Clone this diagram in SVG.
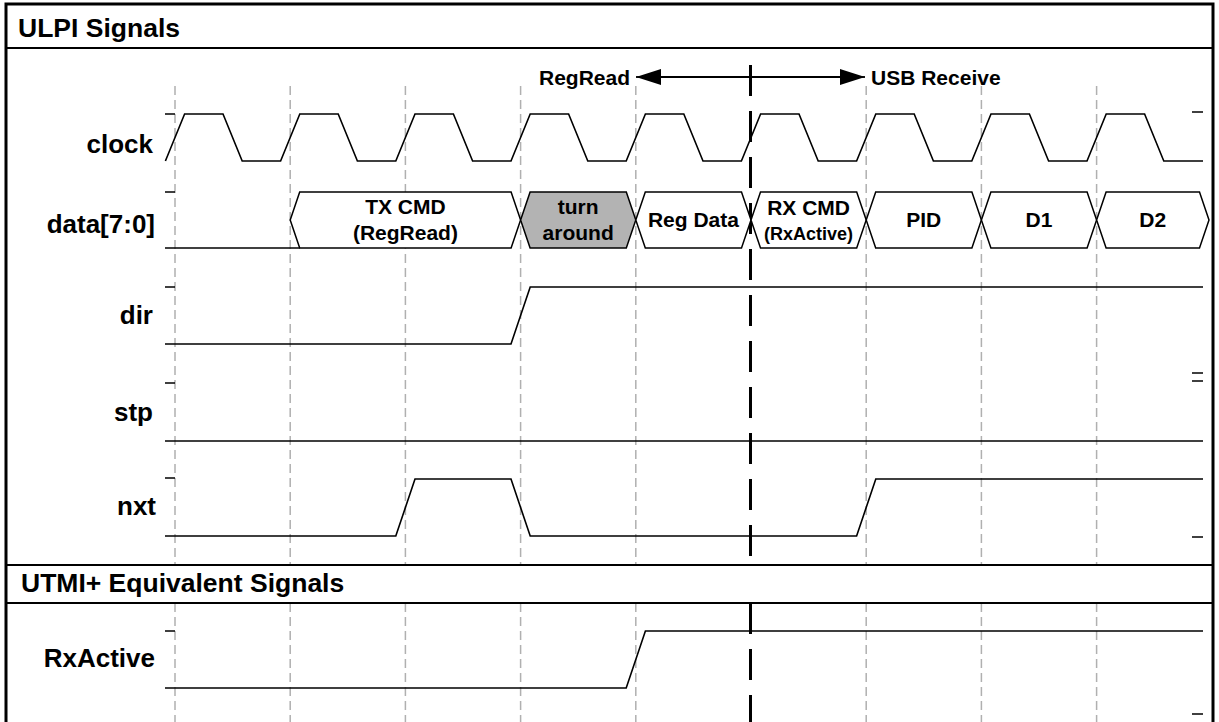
<svg xmlns="http://www.w3.org/2000/svg" width="1219" height="722" viewBox="0 0 1219 722">
<defs>
<style>
.txt{font-family:"Liberation Sans",Arial,sans-serif;font-weight:bold;fill:#000}
.hdr{font-size:26.5px}
.lbl{font-size:26px;text-anchor:end}
.hx{font-size:21px;text-anchor:middle}
.hxs{font-size:18px;text-anchor:middle}
.grid{stroke:#b0b0b0;stroke-width:1.5;stroke-dasharray:9 5;fill:none}
.mark{stroke:#000;stroke-width:3;stroke-dasharray:31 15;fill:none}
.wave{stroke:#000;stroke-width:1.6;fill:none;stroke-linejoin:miter}
.hex{stroke:#000;stroke-width:1.5;fill:#fff}
.tick{stroke:#000;stroke-width:1.5}
.frame{stroke:#000;fill:none}
</style>
<marker id="ah" viewBox="0 0 25 16" refX="25" refY="8" markerWidth="25" markerHeight="16" markerUnits="userSpaceOnUse" orient="auto-start-reverse">
<path d="M0,0 L25,8 L0,16 Z" fill="#000"/>
</marker>
</defs>
<rect width="1219" height="722" fill="#fff"/>

<g id="grid">
<path class="grid" d="M175,86V565M290.2,86V565M405.4,86V565M520.6,86V565M635.8,86V565M866.2,86V565M981.4,86V565M1096.6,86V565"/>
<path class="grid" d="M175,603V722M290.2,603V722M405.4,603V722M520.6,603V722M635.8,603V722M866.2,603V722M981.4,603V722M1096.6,603V722"/>
</g>

<g id="frame">
<rect class="frame" x="6" y="4" width="1207" height="730" stroke-width="3"/>
<line class="frame" x1="6" y1="48" x2="1213" y2="48" stroke-width="2"/>
<line class="frame" x1="6" y1="565" x2="1213" y2="565" stroke-width="2"/>
<line class="frame" x1="6" y1="603" x2="1213" y2="603" stroke-width="2"/>
<text class="txt hdr" x="18" y="37">ULPI Signals</text>
<text class="txt hdr" x="21" y="592">UTMI+ Equivalent Signals</text>
</g>

<g id="connectors">
<line x1="661" y1="77" x2="841" y2="77" stroke="#000" stroke-width="1.8"/>
<line x1="660" y1="77" x2="636" y2="77" stroke="#000" stroke-width="1.8" marker-end="url(#ah)"/>
<line x1="842" y1="77" x2="865" y2="77" stroke="#000" stroke-width="1.8" marker-end="url(#ah)"/>
<path class="mark" d="M750.5,65V565M750.5,603V722"/>
</g>

<g id="phase-labels">
<text class="txt hx" x="630" y="85" style="text-anchor:end">RegRead</text>
<text class="txt hx" x="871" y="85" style="text-anchor:start">USB Receive</text>
</g>

<g id="clock">
<text class="txt lbl" x="153" y="153">clock</text>
<line class="tick" x1="165" y1="114" x2="175" y2="114"/>
<line class="tick" x1="1192" y1="112" x2="1203" y2="112"/>
<polyline class="wave" points="165.4,161 184.6,114 223,114 242.2,161 280.6,161 299.8,114 338.2,114 357.4,161 395.8,161 415,114 453.4,114 472.6,161 511,161 530.2,114 568.6,114 587.8,161 626.2,161 645.4,114 683.8,114 703,161 741.4,161 760.6,114 799,114 818.2,161 856.6,161 875.8,114 914.2,114 933.4,161 971.8,161 991,114 1029.4,114 1048.6,161 1087,161 1106.2,114 1144.6,114 1163.8,161 1203,161"/>
</g>

<g id="data">
<text class="txt lbl" x="155" y="233">data[7:0]</text>
<line class="tick" x1="165" y1="192" x2="175" y2="192"/>
<polyline class="wave" points="165,248 299.7,248"/>
<g id="hex-txcmd">
<polygon class="hex" points="290.2,220 299.7,192 511.1,192 520.6,220 511.1,248 299.7,248"/>
<text class="txt hx" x="405.4" y="214">TX CMD</text>
<text class="txt hx" x="405.4" y="240">(RegRead)</text>
</g>
<g id="hex-turnaround">
<polygon class="hex" points="520.6,220 530.1,192 626.3,192 635.8,220 626.3,248 530.1,248" style="fill:#b3b3b3"/>
<text class="txt hx" x="578.2" y="214">turn</text>
<text class="txt hx" x="578.2" y="240">around</text>
</g>
<g id="hex-regdata">
<polygon class="hex" points="635.8,220 645.3,192 741.5,192 751,220 741.5,248 645.3,248"/>
<text class="txt hx" x="693.4" y="227">Reg Data</text>
</g>
<g id="hex-rxcmd">
<polygon class="hex" points="751,220 760.5,192 856.7,192 866.2,220 856.7,248 760.5,248"/>
<text class="txt hx" x="808.6" y="215">RX CMD</text>
<text class="txt hxs" x="808.6" y="240">(RxActive)</text>
</g>
<g id="hex-pid">
<polygon class="hex" points="866.2,220 875.7,192 971.9,192 981.4,220 971.9,248 875.7,248"/>
<text class="txt hx" x="923.8" y="227">PID</text>
</g>
<g id="hex-d1">
<polygon class="hex" points="981.4,220 990.9,192 1087.1,192 1096.6,220 1087.1,248 990.9,248"/>
<text class="txt hx" x="1039" y="227">D1</text>
</g>
<g id="hex-d2">
<polygon class="hex" points="1096.6,220 1106.1,192 1199.5,192 1209,220 1199.5,248 1106.1,248"/>
<text class="txt hx" x="1152.8" y="227">D2</text>
</g>
</g>

<g id="dir">
<text class="txt lbl" x="153" y="324">dir</text>
<line class="tick" x1="165" y1="287" x2="175" y2="287"/>
<line class="tick" x1="1192" y1="373" x2="1203" y2="373"/>
<polyline class="wave" points="165,344 511,344 530.2,287 1203,287"/>
</g>

<g id="stp">
<text class="txt lbl" x="153" y="421">stp</text>
<line class="tick" x1="165" y1="383" x2="175" y2="383"/>
<line class="tick" x1="1192" y1="381" x2="1203" y2="381"/>
<polyline class="wave" points="165,441 1203,441"/>
</g>

<g id="nxt">
<text class="txt lbl" x="156" y="515">nxt</text>
<line class="tick" x1="165" y1="478" x2="175" y2="478"/>
<line class="tick" x1="1192" y1="537" x2="1203" y2="537"/>
<polyline class="wave" points="165,536 395.8,536 415,479 511,479 530.2,536 856.6,536 875.8,479 1203,479"/>
</g>

<g id="rxactive">
<text class="txt lbl" x="155" y="667">RxActive</text>
<line class="tick" x1="165" y1="631" x2="175" y2="631"/>
<line class="tick" x1="1192" y1="714" x2="1203" y2="714"/>
<polyline class="wave" points="165,688 626.2,688 645.4,631 1203,631"/>
</g>
</svg>
